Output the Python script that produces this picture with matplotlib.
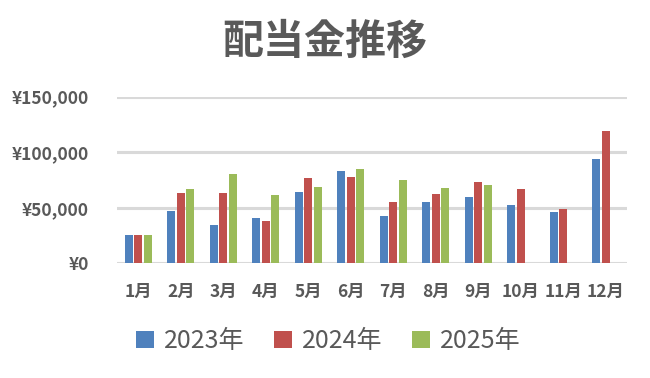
import numpy as np
import matplotlib
matplotlib.use("Agg")
import matplotlib.pyplot as plt
from matplotlib.ticker import FuncFormatter

plt.rcParams['font.family'] = ['Noto Sans CJK JP', 'DejaVu Sans']

months = ['1月', '2月', '3月', '4月', '5月', '6月', '7月', '8月', '9月', '10月', '11月', '12月']
series_names = ['2023年', '2024年', '2025年']
v2023 = [25500, 47000, 34500, 40800, 64200, 83100, 42600, 55200, 59700, 52500, 46200, 93900]
v2024 = [25500, 63300, 63300, 38100, 76800, 77700, 55200, 62400, 73200, 66900, 48900, 119100]
v2025 = [25500, 66900, 80400, 61500, 68700, 84900, 75000, 67800, 70500, np.nan, np.nan, np.nan]
colors = ['#4F81BD', '#C0504D', '#9BBB59']
text_color = '#595959'

fig = plt.figure(figsize=(6.5, 3.78), dpi=100)
ax = fig.add_axes([117/650, 1-263.3/378, 510/650, (263.3-96.7)/378])

x = np.arange(len(months))
step = 0.22
width = 0.19
for i, (vals, c, name) in enumerate(zip([v2023, v2024, v2025], colors, series_names)):
    ax.bar(x + (i-1)*step, vals, width=width, color=c, label=name, zorder=3)

ax.set_xlim(-0.5, 11.5)
ax.set_ylim(0, 150000)
ax.set_yticks([0, 50000, 100000, 150000])
ax.yaxis.set_major_formatter(FuncFormatter(lambda v, p: '¥{:,.0f}'.format(v)))
ax.grid(axis='y', color='#D9D9D9', linewidth=2.2, zorder=0)
ax.set_axisbelow(True)
for s in ax.spines.values():
    s.set_visible(False)
ax.tick_params(axis='both', length=0)
ax.tick_params(axis='y', pad=20, labelsize=12.5, labelcolor=text_color)
ax.tick_params(axis='x', pad=14, labelsize=12.5, labelcolor=text_color)
ax.set_xticks(x)
ax.set_xticklabels(months)
for lab in ax.get_xticklabels() + ax.get_yticklabels():
    lab.set_fontweight('bold')

fig.text(0.5, 1-42/378, '配当金推移', ha='center', va='center', fontsize=29.5,
         fontweight='bold', color=text_color)

leg = fig.legend(loc='center', bbox_to_anchor=(0.505, 1-341/378), ncol=3, frameon=False,
                 fontsize=18, handlelength=0.7, handleheight=0.7, handletextpad=0.4,
                 columnspacing=1.2)
for t in leg.get_texts():
    t.set_color(text_color)

fig.savefig('out.png', dpi=100)
